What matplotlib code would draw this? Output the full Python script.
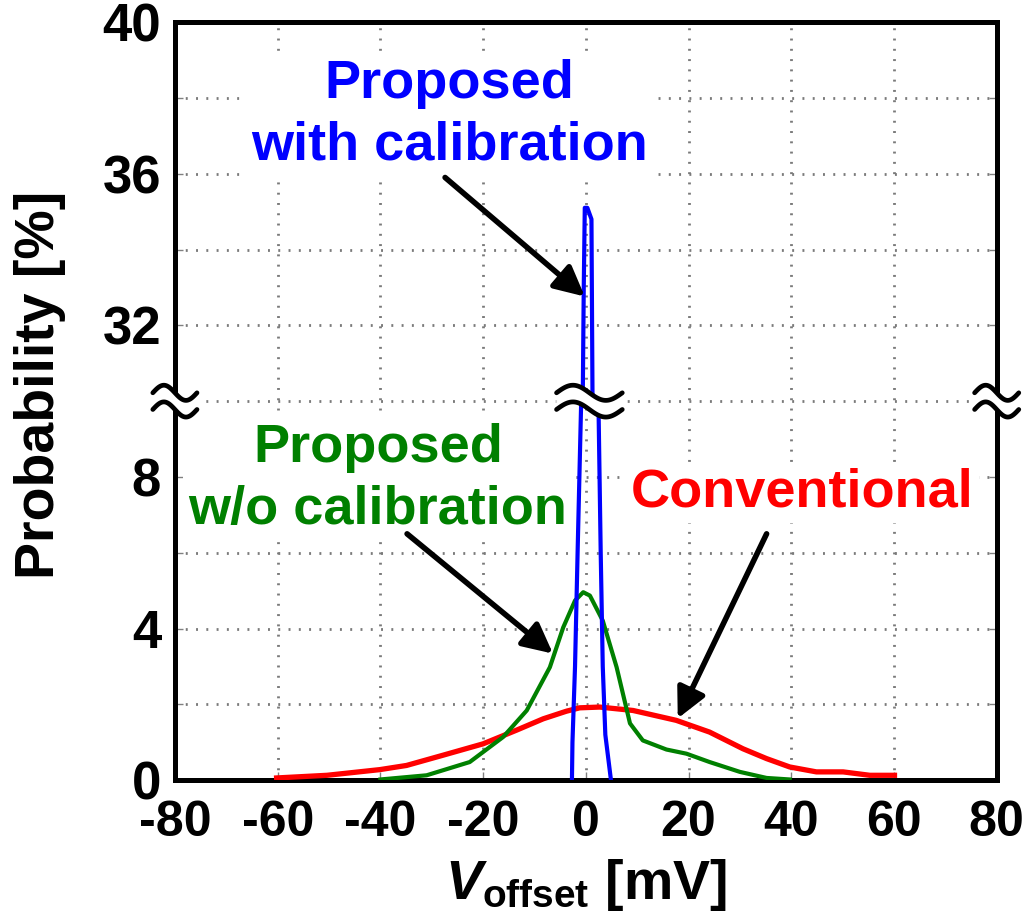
"""
Offset voltage distribution with broken y axis
"""
import numpy as np
import matplotlib
matplotlib.use("Agg")
import matplotlib.pyplot as plt

plt.rcParams['font.family'] = ['Liberation Sans', 'DejaVu Sans']
plt.rcParams['font.weight'] = 'bold'
plt.rcParams['mathtext.fontset'] = 'custom'
plt.rcParams['mathtext.rm'] = 'Liberation Sans:bold'
plt.rcParams['mathtext.bf'] = 'Liberation Sans:bold'
plt.rcParams['mathtext.it'] = 'Liberation Sans:bold:italic'

# conventional comparator offset distribution [mV], [%]
conv_x = [-60.2, -50.4, -40.1, -34.9, -27.8, -20.0, -13.5, -8.3, -3.8, -1.2,
          2.7, 9.2, 17.6, 24.1, 30.6, 35.2, 39.7, 44.9, 50.1, 55.3, 60.1]
conv_p = [0.06, 0.13, 0.28, 0.39, 0.66, 0.96, 1.32, 1.62, 1.82, 1.91,
          1.93, 1.84, 1.58, 1.27, 0.83, 0.57, 0.35, 0.22, 0.22, 0.13, 0.13]

# proposed, no calibration
nocal_x = [-40.0, -31.0, -22.6, -16.1, -11.5, -7.0, -4.4, -2.1, -0.5, 0.8,
           3.3, 6.0, 8.6, 11.1, 15.7, 19.6, 24.1, 30.0, 35.2, 39.7]
nocal_p = [0.02, 0.13, 0.48, 1.14, 1.84, 2.98, 4.03, 4.74, 4.96, 4.87,
           4.21, 2.98, 1.50, 1.05, 0.81, 0.70, 0.48, 0.22, 0.06, 0.02]

# proposed, with calibration (values in 10..30 fall inside the axis break)
cal_x = [-2.7, -2.6, -2.1, -1.6, -0.9, -0.6, -0.4, -0.2, 0.3, 1.1, 1.3,
         2.5, 2.9, 3.3, 3.8, 4.9]
cal_p = [0.0, 1.0, 3.0, 6.0, 10.0, 30.0, 33.0, 35.1, 35.1, 34.8, 30.2,
         9.6, 6.0, 3.0, 1.2, 0.0]

xticks = [-80, -60, -40, -20, 0, 20, 40, 60, 80]
ytick_vals = [0, 4, 8, 32, 36, 40]

BREAK_LO, BREAK_HI = 10.0, 30.0


def squash(p):
    # map the 30..40 band straight on top of 0..10
    p = np.asarray(p, dtype=float)
    return np.where(p >= BREAK_HI, p - (BREAK_HI - BREAK_LO), p)


fig = plt.figure(figsize=(10.35, 9.19), dpi=100)
ax = fig.add_axes([0.169, 0.151, 0.794, 0.825])

ax.plot(conv_x, squash(conv_p), color='#ff0000', lw=3.8, zorder=3)
ax.plot(nocal_x, squash(nocal_p), color='#008000', lw=3.0, zorder=3)
ax.plot(cal_x, squash(cal_p), color='#0000ff', lw=3.0, zorder=4)

ax.set_xlim(-80, 80)
ax.set_ylim(0, 20)
ax.set_xticks(xticks)
ax.set_xticklabels([str(v) for v in xticks])
ax.set_yticks(squash(ytick_vals))
ax.set_yticklabels([str(v) for v in ytick_vals])
ax.set_yticks(np.arange(2, 20, 4), minor=True)

ax.set_axisbelow(True)
ax.grid(True, which='both', color='#7a7a7a', lw=2.0, linestyle=(0, (0.7, 3)))
ax.tick_params(axis='both', which='both', direction='in', length=6,
               width=1, color='#808080', right=True, labelsize=38, pad=10)
ax.tick_params(axis='x', labelsize=36, pad=14)
for s in ax.spines.values():
    s.set_linewidth(3.6)

ax.set_ylabel('Probability [%]', fontsize=40, fontweight='bold')
ax.yaxis.set_label_coords(-0.132, 0.521)
ax.set_xlabel(r'$V_{\mathrm{offset}}$ [mV]', fontsize=40, fontweight='bold',
              labelpad=8)

# labels with white boxes over the grid
box = dict(facecolor='white', edgecolor='none', pad=4)
ax.text(-26.5, 17.55, 'Proposed\nwith calibration', color='#0000ff',
        fontsize=39, fontweight='bold', ha='center', va='center',
        linespacing=1.3, bbox=box, zorder=2)
ax.text(-40.5, 7.95, 'Proposed\nw/o calibration', color='#008000',
        fontsize=39, fontweight='bold', ha='center', va='center',
        linespacing=1.3, bbox=box, zorder=2)
ax.text(42.2, 7.6, 'Conventional', color='#ff0000', fontsize=39,
        fontweight='bold', ha='center', va='center', bbox=box, zorder=2)

arrow = dict(arrowstyle='-|>', color='black', lw=4, mutation_scale=45,
             shrinkA=0, shrinkB=0)
ax.annotate('', xy=(-0.2, 12.76), xytext=(-27.4, 15.9), arrowprops=arrow,
            zorder=5)
ax.annotate('', xy=(-6.4, 3.34), xytext=(-34.8, 6.5), arrowprops=arrow,
            zorder=5)
ax.annotate('', xy=(17.9, 1.63), xytext=(35.2, 6.5), arrowprops=arrow,
            zorder=5)


def break_mark(xc, half_w):
    # two stacked tildes with a white gap between them
    t = np.linspace(-0.5, 0.5, 60)
    xs = xc + t * 2 * half_w
    wave = -0.2 * np.sin(2 * np.pi * t)
    upper = BREAK_LO + 0.22 + wave
    lower = BREAK_LO - 0.22 + wave
    ax.fill_between(xs, lower, upper, color='white', zorder=6, clip_on=False)
    ax.plot(xs, upper, color='black', lw=3.4, zorder=7, clip_on=False,
            solid_capstyle='round')
    ax.plot(xs, lower, color='black', lw=3.4, zorder=7, clip_on=False,
            solid_capstyle='round')


break_mark(-80, 4.3)
break_mark(0.7, 6.4)
break_mark(80, 4.3)

fig.savefig('out.png', dpi=100)
